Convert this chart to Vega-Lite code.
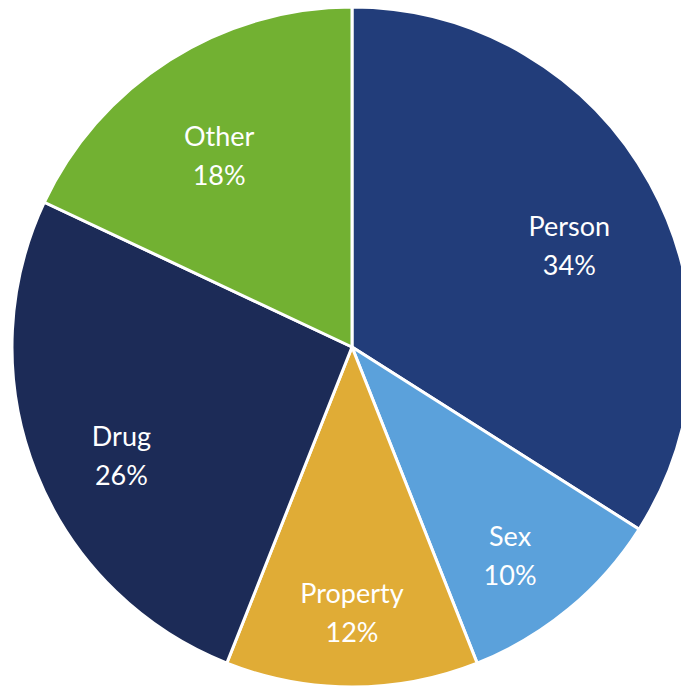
{
  "$schema": "https://vega.github.io/schema/vega-lite/v6.json",
  "width": 680,
  "height": 680,
  "autosize": "none",
  "padding": {"left": 12, "top": 7, "right": 0, "bottom": 0},
  "background": "white",
  "view": {"stroke": null},
  "data": {"values": [
    {"category": "Person", "value": 34, "order": 1},
    {"category": "Sex", "value": 10, "order": 2},
    {"category": "Property", "value": 12, "order": 3},
    {"category": "Drug", "value": 26, "order": 4},
    {"category": "Other", "value": 18, "order": 5}
  ]},
  "transform": [
    {"calculate": "datum.category + '\\n' + datum.value + '%'", "as": "label"}
  ],
  "encoding": {
    "theta": {"field": "value", "type": "quantitative", "stack": true},
    "order": {"field": "order", "type": "quantitative"},
    "color": {
      "field": "category", "type": "nominal", "legend": null,
      "scale": {
        "domain": ["Person", "Sex", "Property", "Drug", "Other"],
        "range": ["#223D7A", "#5BA1DB", "#E0AC36", "#1C2B57", "#72B132"]
      }
    }
  },
  "layer": [
    {"mark": {"type": "arc", "outerRadius": 340, "stroke": "white", "strokeWidth": 3}},
    {"mark": {"type": "text", "radius": 248, "fill": "white", "font": "Lato", "fontSize": 27, "lineBreak": "\n", "lineHeight": 39, "baseline": "middle", "align": "center"},
     "encoding": {"text": {"field": "label"}, "color": {"value": "white"}}}
  ]
}
